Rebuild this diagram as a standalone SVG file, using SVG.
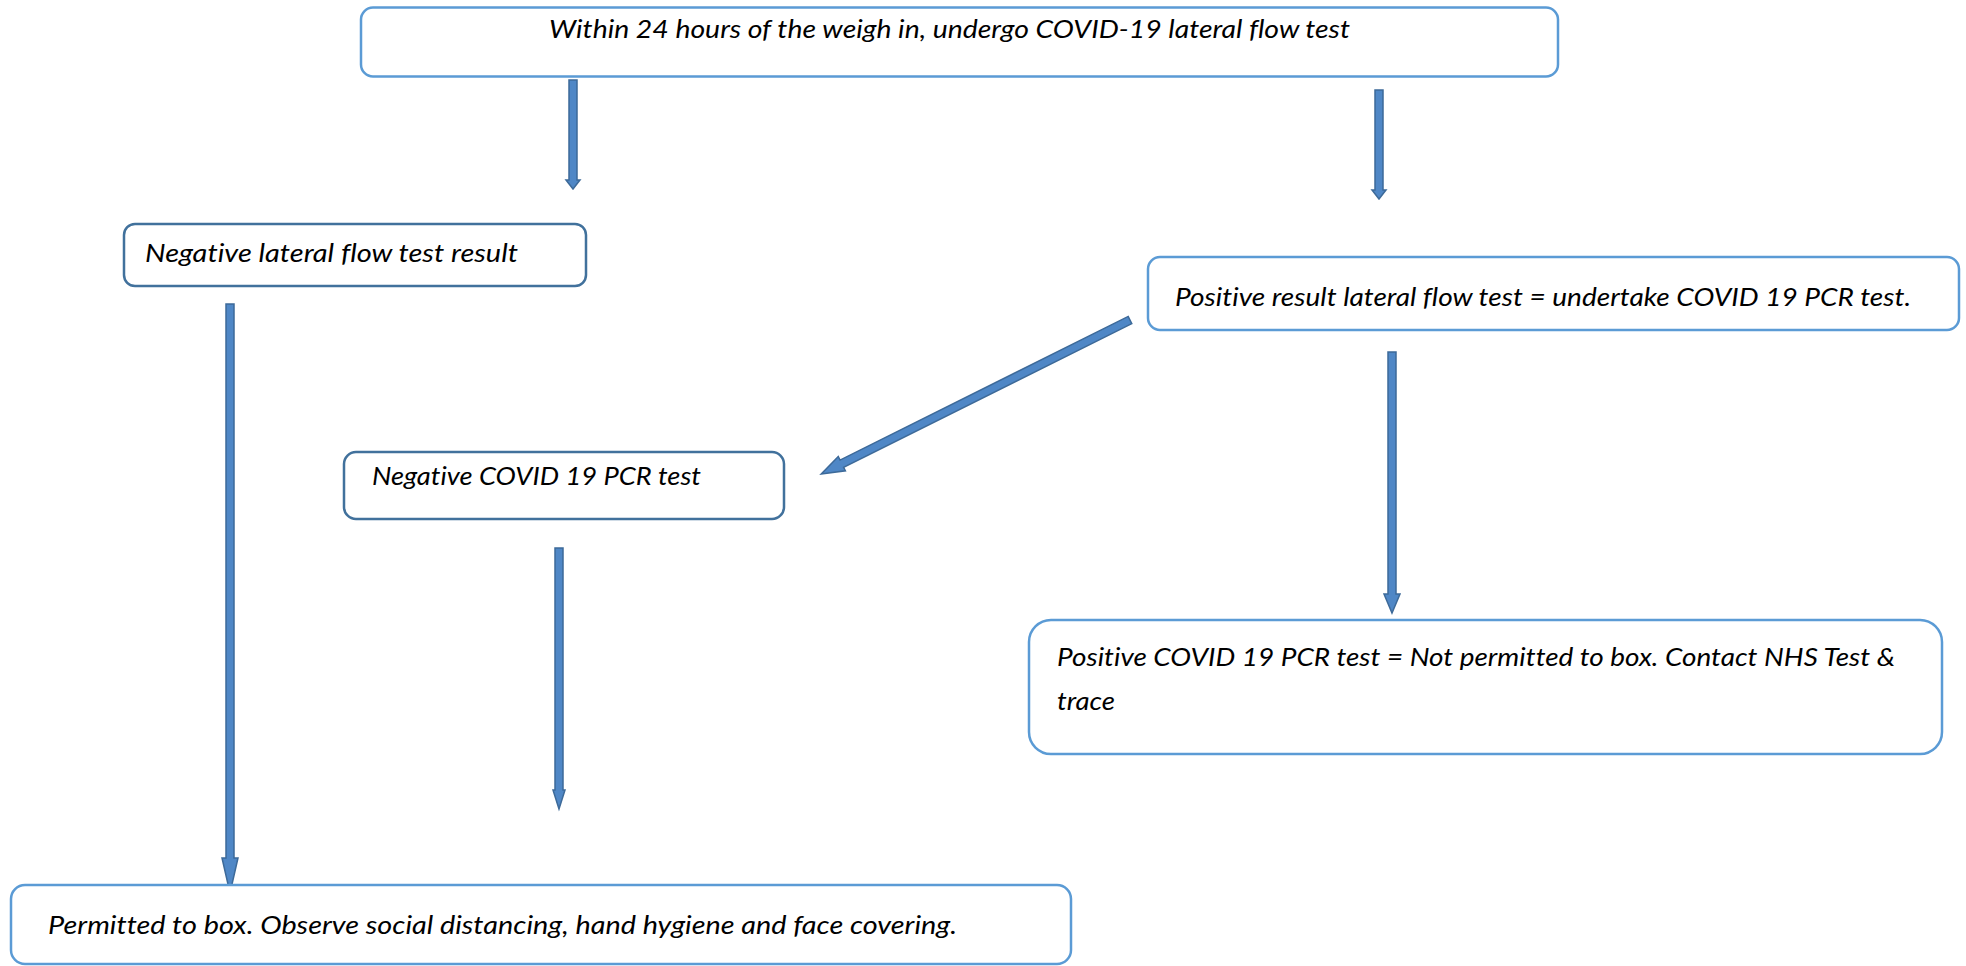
<svg xmlns="http://www.w3.org/2000/svg" width="1966" height="966" viewBox="0 0 1966 966">
<style>
.box{fill:#ffffff;stroke-width:2.5}
.light{stroke:#5B9BD5}
.dark{stroke:#41719C}
.lbl{font-family:Lato,"Open Sans","Liberation Sans",sans-serif;font-style:italic;font-size:26px;fill:#000000;font-variant-ligatures:none;font-feature-settings:"liga" 0}
.arr{fill:#4F87C6;stroke:#3D6A99;stroke-width:1.5;stroke-linejoin:miter}
</style>
<rect width="1966" height="966" fill="#ffffff"/>
<g id="connectors">
<polygon class="arr" points="569,80 577,80 577,180 580,180 573,189 566,180 569,180"/>
<polygon class="arr" points="1375,90 1383,90 1383,190 1386,190 1379,199 1372,190 1375,190"/>
<polygon class="arr" points="226,304 234,304 234,858 238,858 230,893 222,858 226,858"/>
<polygon class="arr" points="555,548 563,548 563,790 565,790 559,809 553,790 555,790"/>
<polygon class="arr" points="1388,352 1396,352 1396,594 1400,594 1392,613 1384,594 1388,594"/>
<polygon class="arr" transform="translate(1130,320) rotate(153.5)" points="0,-4 322,-4 322,-8 345,0 322,8 322,4 0,4"/>
</g>
<g id="start">
<rect class="box light" x="361" y="7.5" width="1197" height="69" rx="12"/>
<text class="lbl" x="549" y="38" textLength="801" lengthAdjust="spacingAndGlyphs">Within 24 hours of the weigh in, undergo COVID-19 lateral flow test</text>
</g>
<g id="neg-lft">
<rect class="box dark" x="124" y="224" width="462" height="62" rx="11"/>
<text class="lbl" x="145" y="262" textLength="373" lengthAdjust="spacingAndGlyphs">Negative lateral flow test result</text>
</g>
<g id="pos-lft">
<rect class="box light" x="1148" y="257" width="811" height="73" rx="12"/>
<text class="lbl" x="1175" y="306" textLength="736" lengthAdjust="spacingAndGlyphs">Positive result lateral flow test = undertake COVID 19 PCR test.</text>
</g>
<g id="neg-pcr">
<rect class="box dark" x="344" y="452" width="440" height="67" rx="12"/>
<text class="lbl" x="372" y="485" textLength="329" lengthAdjust="spacingAndGlyphs">Negative COVID 19 PCR test</text>
</g>
<g id="pos-pcr">
<rect class="box light" x="1029" y="620" width="913" height="134" rx="22"/>
<text class="lbl" x="1057" y="666" textLength="838" lengthAdjust="spacingAndGlyphs">Positive COVID 19 PCR test = Not permitted to box. Contact NHS Test &amp;</text>
<text class="lbl" x="1057" y="710" textLength="58" lengthAdjust="spacingAndGlyphs">trace</text>
</g>
<g id="permitted">
<rect class="box light" x="11" y="885" width="1060" height="79" rx="14"/>
<text class="lbl" x="48" y="934" textLength="909" lengthAdjust="spacingAndGlyphs">Permitted to box. Observe social distancing, hand hygiene and face covering.</text>
</g>
</svg>
